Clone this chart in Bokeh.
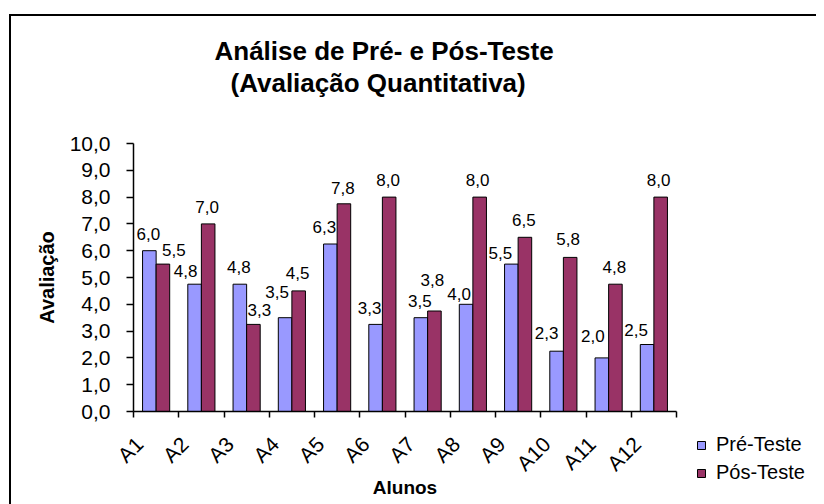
from decimal import Decimal, ROUND_HALF_UP

from bokeh.plotting import figure
from bokeh.layouts import row, column
from bokeh.models import (Range1d, FixedTicker, ColumnDataSource, Legend,
                          LegendItem, Title)
from bokeh.transform import dodge
from bokeh.core.properties import value
from bokeh.embed import file_html
from bokeh.resources import INLINE

# ---------------- data ----------------
students = ["A1", "A2", "A3", "A4", "A5", "A6", "A7", "A8", "A9", "A10", "A11", "A12"]
pre_test = [6.0, 4.75, 4.75, 3.5, 6.25, 3.25, 3.5, 4.0, 5.5, 2.25, 2.0, 2.5]
post_test = [5.5, 7.0, 3.25, 4.5, 7.75, 8.0, 3.75, 8.0, 6.5, 5.75, 4.75, 8.0]
y_ticks = [0, 1, 2, 3, 4, 5, 6, 7, 8, 9, 10]
y_tick_labels = ["0,0", "1,0", "2,0", "3,0", "4,0", "5,0", "6,0", "7,0", "8,0", "9,0", "10,0"]
series_names = ["Pré-Teste", "Pós-Teste"]
title_lines = ["Análise de Pré- e Pós-Teste", "(Avaliação Quantitativa)"]

# ---------------- label placement (styling, pixels) ----------------
pre_dx = [-1, -9, -1, -8, -6, -6, -1, -7, -11, -10, -9, -11]
pre_dy = [17, 13, 17, 26, 17, 16, 17, 10, 11, 18, 22, 15]
post_dx = [11, -1, 6, -1, -1, -1, -2, -2, -1, -2, -1, -2]
post_dy = [14, 17, 14, 18, 16, 17, 31, 17, 17, 18, 17, 17]
LABEL_SHIFT = -0.37   # rotated category labels sit left of the group centre


def fmt(v):
    d = Decimal(str(v)).quantize(Decimal("0.1"), rounding=ROUND_HALF_UP)
    return str(d).replace(".", ",")


FONT = "Liberation Sans"
INK = "#000000"
PRE_COLOR = "#9999FF"
POST_COLOR = "#993366"

centers = [i + 0.5 for i in range(len(students))]
src = ColumnDataSource(dict(
    x=centers,
    pre=pre_test,
    post=post_test,
    pre_lbl=[fmt(v) for v in pre_test],
    post_lbl=[fmt(v) for v in post_test],
    pre_dx=pre_dx,
    pre_dy=[-d for d in pre_dy],
    post_dx=post_dx,
    post_dy=[-d for d in post_dy],
))

p = figure(width=675, height=488,
           x_range=Range1d(0, len(students)), y_range=Range1d(0, 10),
           output_backend="svg", toolbar_location=None,
           min_border_left=122, min_border_right=10,
           min_border_top=127, min_border_bottom=93,
           background_fill_color="white", border_fill_color="white")
p.title.visible = False
p.outline_line_color = None
p.xgrid.visible = False
p.ygrid.visible = False

bar_style = dict(width=0.3, line_color=INK, line_width=1)
r_pre = p.vbar(x=dodge("x", -0.15, range=p.x_range), top="pre", source=src,
               fill_color=PRE_COLOR, **bar_style)
r_post = p.vbar(x=dodge("x", 0.15, range=p.x_range), top="post", source=src,
                fill_color=POST_COLOR, **bar_style)

for col, dxc, dyc, off in (("pre", "pre_dx", "pre_dy", -0.15),
                            ("post", "post_dx", "post_dy", 0.15)):
    p.text(x=dodge("x", off, range=p.x_range), y=col, text=col + "_lbl",
           x_offset=dxc, y_offset=dyc, source=src,
           text_align="center", text_baseline="middle",
           text_font=value(FONT), text_font_size=value("17px"),
           text_color=INK)

# y axis
p.yaxis.ticker = FixedTicker(ticks=y_ticks, minor_ticks=[])
p.yaxis.major_label_overrides = {t: l for t, l in zip(y_ticks, y_tick_labels)}
p.yaxis.axis_label = "Avaliação"
p.yaxis.axis_label_text_font = FONT
p.yaxis.axis_label_text_font_style = "bold"
p.yaxis.axis_label_text_font_size = "20px"
p.yaxis.axis_label_text_color = INK
p.yaxis.axis_label_standoff = 9
p.yaxis.major_label_text_font = FONT
p.yaxis.major_label_text_font_size = "21px"
p.yaxis.major_label_text_color = INK
p.yaxis.major_label_standoff = 16
p.yaxis.major_tick_out = 7
p.yaxis.major_tick_in = 0
p.yaxis.axis_line_color = INK
p.yaxis.major_tick_line_color = INK
p.yaxis.axis_line_width = 1.5
p.yaxis.major_tick_line_width = 1.5

# x axis: labels near category centres, tick marks between categories
label_pos = [c + LABEL_SHIFT for c in centers]
p.xaxis.ticker = FixedTicker(ticks=label_pos, minor_ticks=list(range(len(students) + 1)))
p.xaxis.major_label_overrides = {c: s for c, s in zip(label_pos, students)}
p.xaxis.major_label_orientation = 0.7854
p.xaxis.major_tick_out = 0
p.xaxis.major_tick_in = 0
p.xaxis.major_tick_line_color = None
p.xaxis.minor_tick_out = 6
p.xaxis.minor_tick_in = 0
p.xaxis.minor_tick_line_color = INK
p.xaxis.minor_tick_line_width = 1.5
p.xaxis.axis_line_color = INK
p.xaxis.axis_line_width = 1.5
p.xaxis.major_label_text_font = FONT
p.xaxis.major_label_text_font_size = "21px"
p.xaxis.major_label_text_color = INK
p.xaxis.major_label_standoff = 23
p.xaxis.axis_label = "Alunos"
p.xaxis.axis_label_text_font = FONT
p.xaxis.axis_label_text_font_style = "bold"
p.xaxis.axis_label_text_font_size = "19px"
p.xaxis.axis_label_text_color = INK
p.xaxis.axis_label_standoff = -9

# titles (spacer nearest the frame, then line 2, then line 1)
spacer = Title(text=" ", text_font_size="1px", standoff=43)
t2 = Title(text=title_lines[1], align="left", offset=97, standoff=0,
           text_font=FONT, text_font_style="bold", text_font_size="26px",
           text_color=INK)
t1 = Title(text=title_lines[0], align="left", offset=81, standoff=0,
           text_font=FONT, text_font_style="bold", text_font_size="26px",
           text_color=INK)
p.add_layout(spacer, "above")
p.add_layout(t2, "above")
p.add_layout(t1, "above")

# legend lives in a narrow companion canvas to the right; its swatch
# renderers share the data but sit outside that canvas's visible range
q = figure(width=130, height=488, x_range=Range1d(0, len(students)),
           y_range=Range1d(100, 101),
           output_backend="svg", toolbar_location=None,
           x_axis_location=None, y_axis_location=None,
           min_border=0, background_fill_color="white",
           border_fill_color="white")
q.title.visible = False
q.outline_line_color = None
q.grid.visible = False
l_pre = q.vbar(x="x", top="pre", source=src, fill_color=PRE_COLOR, **bar_style)
l_post = q.vbar(x="x", top="post", source=src, fill_color=POST_COLOR, **bar_style)

legend = Legend(items=[LegendItem(label=series_names[0], renderers=[l_pre]),
                       LegendItem(label=series_names[1], renderers=[l_post])],
                location=(10, 20), orientation="vertical",
                border_line_color=None, background_fill_alpha=0,
                glyph_width=10, glyph_height=10, label_standoff=10,
                label_text_font=FONT, label_text_font_size="20px",
                label_text_color=INK,
                padding=0, margin=0, spacing=5)
q.add_layout(legend)

layout = row(p, column(q), spacing=0)
layout.styles = {"margin-top": "14px", "margin-left": "9px",
                 "border-top": "2px solid #000", "border-left": "2px solid #000"}

open("out.html", "w").write(file_html(layout, INLINE))
